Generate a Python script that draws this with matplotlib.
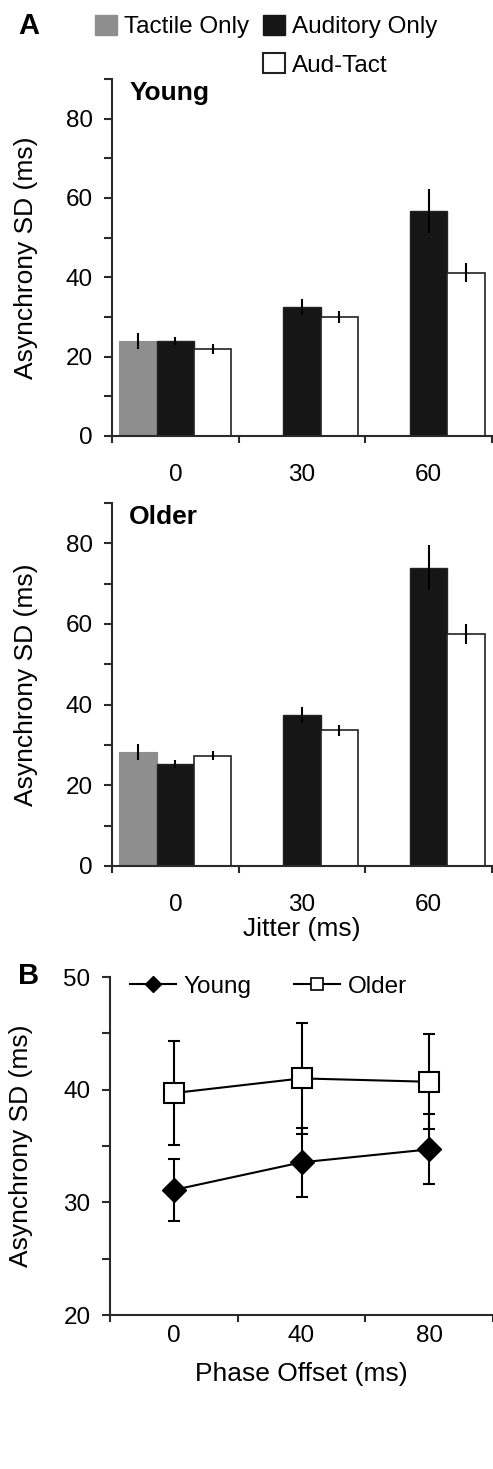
import numpy as np
import matplotlib
matplotlib.use("Agg")
import matplotlib.pyplot as plt
from matplotlib.patches import Patch
from matplotlib.lines import Line2D
from matplotlib.ticker import MultipleLocator, FixedLocator, NullFormatter

plt.rcParams['font.family'] = ['Liberation Sans', 'DejaVu Sans']

# panel A data (jitter conditions)
jitter_labels = ['0', '30', '60']
young_tactile = [23.9]
young_tactile_err = [2.0]
young_aud = [24.0, 32.5, 56.7]
young_aud_err = [1.0, 2.1, 5.6]
young_audtact = [22.0, 30.0, 41.2]
young_audtact_err = [1.3, 1.4, 2.5]

older_tactile = [28.2]
older_tactile_err = [2.0]
older_aud = [25.2, 37.5, 74.0]
older_aud_err = [1.0, 2.0, 5.5]
older_audtact = [27.3, 33.6, 57.5]
older_audtact_err = [1.1, 1.4, 2.5]

# panel B data (phase offset)
phase_labels = ['0', '40', '80']
young_phase = [31.1, 33.55, 34.7]
young_phase_err = [2.75, 3.05, 3.1]
older_phase = [39.7, 41.0, 40.7]
older_phase_err = [4.6, 4.9, 4.2]

GREY = '#8e8e8e'
BLACK = '#161616'
EDGE = '#222222'
SPINE = '#2a2a2a'

W, H = 493, 1469
fig = plt.figure(figsize=(W / 100, H / 100), dpi=100)


def frac_axes(left, top, right, bottom):
    return fig.add_axes([left / W, 1 - bottom / H, (right - left) / W, (bottom - top) / H])


def style_axes(ax):
    for s in ['top', 'right']:
        ax.spines[s].set_visible(False)
    for s in ['left', 'bottom']:
        ax.spines[s].set_linewidth(1.5)
        ax.spines[s].set_color(SPINE)
    ax.tick_params(axis='y', which='both', direction='out', length=6, width=1.5,
                   color=SPINE, labelsize=17.5, pad=8)
    ax.tick_params(axis='x', which='minor', direction='out', length=5, width=1.5, color=SPINE)


def bar_panel(ax, tactile, tactile_err, aud, aud_err, audtact, audtact_err, title):
    w = 0.295
    x = np.arange(len(aud))
    ek = dict(elinewidth=1.5, ecolor='black', capsize=0)
    ax.bar(x[:len(tactile)] - w, tactile, w, color=GREY, edgecolor=GREY, linewidth=0.8,
           yerr=tactile_err, error_kw=ek, zorder=2)
    ax.bar(x, aud, w, color=BLACK, edgecolor=EDGE, linewidth=1.0,
           yerr=aud_err, error_kw=ek, zorder=2)
    ax.bar(x + w, audtact, w, color='white', edgecolor=EDGE, linewidth=1.2,
           yerr=audtact_err, error_kw=ek, zorder=2)
    ax.set_xlim(-0.5, 2.5)
    ax.set_ylim(0, 90)
    ax.yaxis.set_major_locator(MultipleLocator(20))
    ax.yaxis.set_minor_locator(MultipleLocator(10))
    ax.set_xticks(x)
    ax.set_xticklabels(jitter_labels)
    ax.xaxis.set_minor_locator(FixedLocator([-0.5, 0.5, 1.5, 2.5]))
    ax.xaxis.set_minor_formatter(NullFormatter())
    style_axes(ax)
    ax.tick_params(axis='x', which='major', length=0, labelsize=17.5, pad=20)
    ax.set_ylabel('Asynchrony SD (ms)', fontsize=19)
    ax.yaxis.set_label_coords(-0.195, 0.5)
    ax.text(0.045, 0.995, title, transform=ax.transAxes, fontsize=19,
            fontweight='bold', va='top', ha='left')


ax1 = frac_axes(112, 79, 492, 436)
bar_panel(ax1, young_tactile, young_tactile_err, young_aud, young_aud_err,
          young_audtact, young_audtact_err, 'Young')

ax2 = frac_axes(112, 503, 492, 866)
bar_panel(ax2, older_tactile, older_tactile_err, older_aud, older_aud_err,
          older_audtact, older_audtact_err, 'Older')
ax2.set_xlabel('Jitter (ms)', fontsize=19, labelpad=1)

# legend for panel A (two columns, second column has two entries)
handles = [Patch(facecolor=GREY, edgecolor=GREY),
           Patch(visible=False),
           Patch(facecolor=BLACK, edgecolor=BLACK),
           Patch(facecolor='white', edgecolor=EDGE, linewidth=1.5)]
labels = ['Tactile Only', '', 'Auditory Only', 'Aud-Tact']
fig.legend(handles, labels, ncol=2, loc='upper left',
           bbox_to_anchor=(95 / W, 1 - 15 / H), frameon=False, fontsize=17.5,
           handlelength=0.9, handleheight=0.9, handletextpad=0.3,
           columnspacing=0.55, labelspacing=0.6, borderpad=0, borderaxespad=0)

# panel B
ax3 = frac_axes(110, 977, 493, 1315)
xp = np.arange(len(young_phase))
ax3.errorbar(xp, older_phase, yerr=older_phase_err, color='black', lw=1.5,
             marker='s', ms=14, mfc='white', mec='black', mew=1.5,
             capsize=4.5, capthick=1.5, elinewidth=1.5, label='Older', zorder=3)
ax3.errorbar(xp, young_phase, yerr=young_phase_err, color='black', lw=1.5,
             marker='D', ms=12, mfc='black', mec='black',
             capsize=4.5, capthick=1.5, elinewidth=1.5, label='Young', zorder=3)
ax3.set_xlim(-0.5, 2.5)
ax3.set_ylim(20, 50)
ax3.yaxis.set_major_locator(MultipleLocator(10))
ax3.yaxis.set_minor_locator(MultipleLocator(5))
ax3.set_xticks(xp)
ax3.set_xticklabels(phase_labels)
ax3.xaxis.set_minor_locator(FixedLocator([-0.5, 0.5, 1.5, 2.5]))
ax3.xaxis.set_minor_formatter(NullFormatter())
style_axes(ax3)
ax3.tick_params(axis='x', which='major', length=0, labelsize=17.5, pad=7)
ax3.set_ylabel('Asynchrony SD (ms)', fontsize=19)
ax3.yaxis.set_label_coords(-0.2, 0.5)
ax3.set_xlabel('Phase Offset (ms)', fontsize=19, labelpad=11)

leg_handles = [Line2D([], [], color='black', lw=1.5, marker='D', ms=8, mfc='black'),
               Line2D([], [], color='black', lw=1.5, marker='s', ms=9, mfc='white', mew=1.2)]
ax3.legend(leg_handles, ['Young', 'Older'], ncol=2, loc='upper left',
           bbox_to_anchor=(0.052, 1.003), frameon=False, fontsize=17.5,
           handlelength=1.9, handletextpad=0.3, columnspacing=1.75,
           borderpad=0, borderaxespad=0)

fig.text(18 / W, 1 - 26 / H, 'A', fontsize=21, fontweight='bold', va='center', ha='left')
fig.text(18 / W, 1 - 976 / H, 'B', fontsize=21, fontweight='bold', va='center', ha='left')

fig.savefig('out.png', dpi=100)
